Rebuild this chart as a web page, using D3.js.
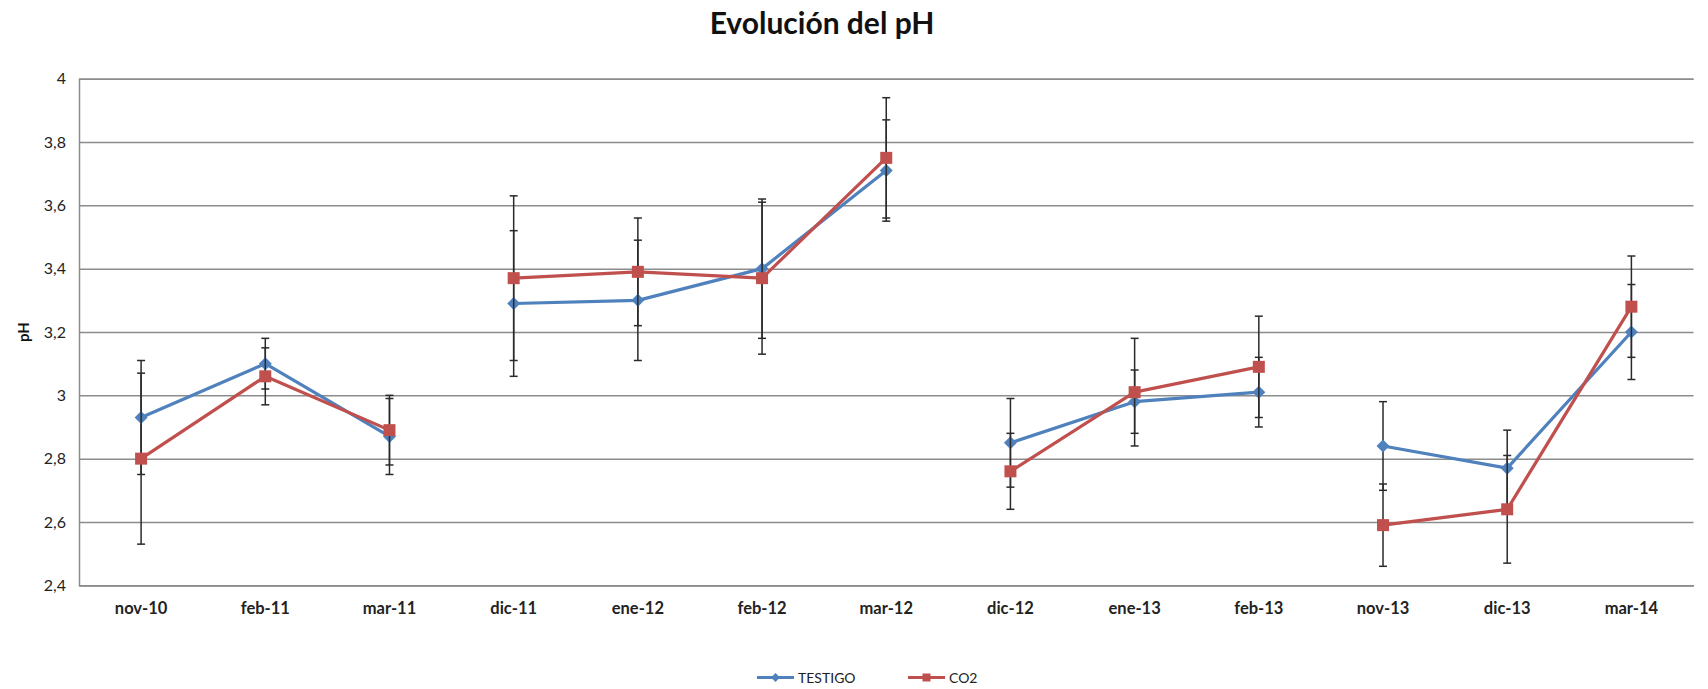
<!DOCTYPE html>
<html>
<head>
<meta charset="utf-8">
<script src="https://cdn.jsdelivr.net/npm/d3@7"></script>
<style>
  body { margin: 0; background: #fff; }
  svg { display: block; font-family: Lato, "Open Sans", sans-serif; }
</style>
</head>
<body>
<svg id="chart" width="1708" height="689"></svg>
<script>
// pH evolution, TESTIGO vs CO2, with error bars

const categories = ['nov-10', 'feb-11', 'mar-11', 'dic-11', 'ene-12', 'feb-12', 'mar-12',
  'dic-12', 'ene-13', 'feb-13', 'nov-13', 'dic-13', 'mar-14'];
// campaign index: the lines break between campaigns
const campaign = [1, 1, 1, 2, 2, 2, 2, 3, 3, 3, 4, 4, 4];

const testigo = [2.93, 3.10, 2.87, 3.29, 3.30, 3.40, 3.71, 2.85, 2.98, 3.01, 2.84, 2.77, 3.20];
const testigoErr = [0.18, 0.08, 0.12, 0.23, 0.19, 0.22, 0.16, 0.14, 0.10, 0.11, 0.14, 0.12, 0.15];
const co2 = [2.80, 3.06, 2.89, 3.37, 3.39, 3.37, 3.75, 2.76, 3.01, 3.09, 2.59, 2.64, 3.28];
const co2Err = [0.27, 0.09, 0.11, 0.26, 0.17, 0.24, 0.19, 0.12, 0.17, 0.16, 0.13, 0.17, 0.16];

const yTicks = [2.4, 2.6, 2.8, 3.0, 3.2, 3.4, 3.6, 3.8, 4.0];

const svg = d3.select('#chart');
const plotLeft = 79, plotRight = 1693.5, plotTop = 78.7, plotBottom = 585.3;

const x = d3.scaleBand()
  .domain(categories)
  .range([plotLeft, plotRight]);
const cx = c => x(c) + x.bandwidth() / 2;

const y = d3.scaleLinear()
  .domain([2.4, 4])
  .range([plotBottom, plotTop]);

const fmt = v => String(+v.toFixed(1)).replace('.', ',');

// title
svg.append('text')
  .attr('x', 822)
  .attr('y', 34)
  .attr('text-anchor', 'middle')
  .attr('font-size', 30)
  .attr('font-weight', 'bold')
  .attr('fill', '#111')
  .text('Evolución del pH');

// gridlines + y labels
const yAxis = svg.append('g')
  .attr('transform', `translate(${plotLeft},0)`)
  .call(d3.axisLeft(y).tickValues(yTicks).tickFormat(fmt)
    .tickSize(-(plotRight - plotLeft)).tickPadding(13));
yAxis.select('.domain').attr('stroke', '#8c8c8c').attr('stroke-width', 1.5);
yAxis.selectAll('.tick line').attr('stroke', '#8c8c8c').attr('stroke-width', 1.5);
yAxis.selectAll('.tick text')
  .attr('font-size', 16)
  .attr('fill', '#222')
  .attr('font-family', 'Lato, sans-serif');

// x axis
const xAxis = svg.append('g')
  .attr('transform', `translate(0,${plotBottom})`)
  .call(d3.axisBottom(x).tickSize(0).tickPadding(17));
xAxis.select('.domain').attr('stroke', '#8c8c8c').attr('stroke-width', 1.5);
xAxis.selectAll('.tick text')
  .attr('font-size', 16.5)
  .attr('font-weight', 'bold')
  .attr('fill', '#222')
  .attr('font-family', 'Lato, sans-serif');

// y axis title
svg.append('text')
  .attr('transform', `translate(29,${(plotTop + plotBottom) / 2}) rotate(-90)`)
  .attr('text-anchor', 'middle')
  .attr('font-size', 15)
  .attr('font-weight', 'bold')
  .attr('fill', '#111')
  .text('pH');

const series = [
  { name: 'TESTIGO', values: testigo, err: testigoErr, color: '#4F81BD', marker: 'diamond' },
  { name: 'CO2', values: co2, err: co2Err, color: '#C0504D', marker: 'square' }
];

const line = d3.line().x(d => cx(d.c)).y(d => y(d.v));

const drawMarker = (g, s, px, py) => {
  if (s.marker === 'diamond') {
    g.append('path')
      .attr('d', `M${px},${py - 6.5}L${px + 6.5},${py}L${px},${py + 6.5}L${px - 6.5},${py}Z`)
      .attr('fill', s.color);
  } else {
    g.append('rect')
      .attr('x', px - 6).attr('y', py - 6)
      .attr('width', 12).attr('height', 12)
      .attr('fill', s.color);
  }
};

series.forEach(s => {
  const g = svg.append('g');
  const pts = categories.map((c, i) => ({ c, v: s.values[i], e: s.err[i], k: campaign[i] }));

  // one line per campaign
  d3.groups(pts, d => d.k).forEach(([, seg]) => {
    g.append('path')
      .attr('d', line(seg))
      .attr('fill', 'none')
      .attr('stroke', s.color)
      .attr('stroke-width', 3.2)
      .attr('stroke-linejoin', 'round');
  });

  // error bars
  pts.forEach(d => {
    const px = cx(d.c);
    const y1 = y(d.v + d.e), y2 = y(d.v - d.e);
    g.append('line').attr('x1', px).attr('x2', px).attr('y1', y1).attr('y2', y2)
      .attr('stroke', '#2a2a2a').attr('stroke-width', 1.5);
    [y1, y2].forEach(yy => g.append('line')
      .attr('x1', px - 4).attr('x2', px + 4).attr('y1', yy).attr('y2', yy)
      .attr('stroke', '#2a2a2a').attr('stroke-width', 1.5));
  });

  pts.forEach(d => drawMarker(g, s, cx(d.c), y(d.v)));
});

// legend
const legend = svg.append('g');
const legendX = [757, 908];
series.forEach((s, i) => {
  const lg = legend.append('g').attr('transform', `translate(${legendX[i]},677.5)`);
  lg.append('line').attr('x1', 0).attr('x2', 37).attr('y1', 0).attr('y2', 0)
    .attr('stroke', s.color).attr('stroke-width', 3.2);
  if (s.marker === 'diamond') {
    lg.append('path').attr('d', 'M18.5,-4.5L23,0L18.5,4.5L14,0Z').attr('fill', s.color);
  } else {
    lg.append('rect').attr('x', 14.5).attr('y', -4).attr('width', 8).attr('height', 8).attr('fill', s.color);
  }
  lg.append('text')
    .attr('x', 41).attr('y', 5)
    .attr('font-size', 14)
    .attr('fill', '#222')
    .text(s.name);
});
</script>
</body>
</html>
